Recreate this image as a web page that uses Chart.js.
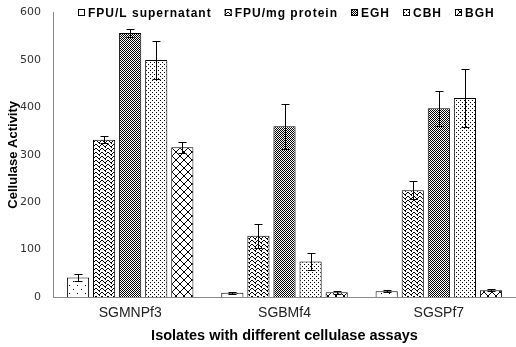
<!DOCTYPE html>
<html>
<head>
<meta charset="utf-8">
<script src="https://cdn.jsdelivr.net/npm/chart.js@4.4.1/dist/chart.umd.min.js"></script>
<style>
  html, body { margin: 0; padding: 0; background: #fff; }
  #wrap { width: 516px; height: 347px; position: relative; }
</style>
</head>
<body>
<div id="wrap"><canvas id="chart"></canvas></div>
<script>
const isolates = ['SGMNPf3', 'SGBMf4', 'SGSPf7'];
const assays = ['FPU/L supernatant', 'FPU/mg protein', 'EGH', 'CBH', 'BGH'];

// values per assay, one per isolate
const fpuL = [41, 9, 12];
const fpuMg = [332, 129, 225];
const egh = [557, 360, 398];
const cbh = [500, 75, 420];
const bgh = [316, 10, 14];

// error (+/-) per assay
const fpuLErr = [8, 2, 2];
const fpuMgErr = [8, 25, 19];
const eghErr = [8, 48, 37];
const cbhErr = [40, 18, 62];
const bghErr = [12, 3, 2];

const yTicks = [0, 100, 200, 300, 400, 500, 600];

// little fill patterns like the old excel ones
function makePattern(w, h, draw) {
    const c = document.createElement('canvas');
    c.width = w; c.height = h;
    const g = c.getContext('2d');
    g.fillStyle = '#fff';
    g.fillRect(0, 0, w, h);
    g.fillStyle = '#000';
    g.strokeStyle = '#000';
    draw(g);
    return document.getElementById('chart').getContext('2d').createPattern(c, 'repeat');
}

const patSparse = makePattern(8, 8, g => {
    g.fillRect(1, 1, 1, 1);
    g.fillRect(5, 5, 1, 1);
});
// herringbone-ish zigzag
const patZigzag = makePattern(6, 4, g => {
    for (let i = 0; i < 3; i++) {
        g.fillRect(i, i, 1, 1);
        g.fillRect(5 - i, i, 1, 1);
    }
    g.fillRect(3, 3, 1, 1);
});
const patDense = makePattern(2, 2, g => {
    g.fillRect(0, 0, 1, 1);
    g.fillRect(1, 1, 1, 1);
});
const patDots = makePattern(4, 4, g => {
    g.fillRect(0, 0, 1, 1);
    g.fillRect(2, 2, 1, 1);
});
const patCross = makePattern(8, 8, g => {
    g.lineWidth = 1;
    g.beginPath();
    g.moveTo(0, 0); g.lineTo(8, 8);
    g.moveTo(8, 0); g.lineTo(0, 8);
    g.stroke();
});

const errors = [fpuLErr, fpuMgErr, eghErr, cbhErr, bghErr];
const fills = [patSparse, patZigzag, patDense, patDots, patCross];
const series = [fpuL, fpuMg, egh, cbh, bgh];

// draw error bars on top of the bars
const errorBars = {
    id: 'errorBars',
    afterDatasetsDraw(chart) {
        const ctx = chart.ctx;
        const y = chart.scales.y;
        ctx.save();
        ctx.strokeStyle = '#000';
        ctx.lineWidth = 1;
        chart.data.datasets.forEach((ds, i) => {
            const meta = chart.getDatasetMeta(i);
            meta.data.forEach((bar, j) => {
                const v = ds.data[j];
                const e = errors[i][j];
                const top = Math.round(y.getPixelForValue(v + e)) + 0.5;
                const bot = Math.round(y.getPixelForValue(v - e)) + 0.5;
                const x = Math.round(bar.x) + 0.5;
                ctx.beginPath();
                ctx.moveTo(x, top); ctx.lineTo(x, bot);
                ctx.moveTo(x - 4, top); ctx.lineTo(x + 4, top);
                ctx.moveTo(x - 4, bot); ctx.lineTo(x + 4, bot);
                ctx.stroke();
            });
        });
        ctx.restore();
    }
};

// legend drawn in one row inside the top of the plot
const topLegend = {
    id: 'topLegend',
    afterDraw(chart) {
        const ctx = chart.ctx;
        const area = chart.chartArea;
        ctx.save();
        ctx.font = 'bold 12px "Liberation Sans", Arial, sans-serif';
        ctx.letterSpacing = '1px';
        const box = 7, gap = 3, spacing = 13;
        const widths = assays.map(a => box + gap + ctx.measureText(a).width);
        const total = widths.reduce((s, w) => s + w, 0) + spacing * (assays.length - 1);
        let x = Math.round((area.left + area.right) / 2 + 2 - total / 2);
        const cy = 13;
        ctx.textBaseline = 'middle';
        assays.forEach((a, i) => {
            ctx.fillStyle = fills[i];
            ctx.fillRect(x, cy - 4, box, box);
            ctx.strokeStyle = '#000';
            ctx.lineWidth = 1;
            ctx.strokeRect(x + 0.5, cy - 3.5, box - 1, box - 1);
            ctx.fillStyle = '#000';
            ctx.fillText(a, x + box + gap, cy + 1);
            x += widths[i] + spacing;
        });
        ctx.restore();
    }
};

new Chart(document.getElementById('chart'), {
    type: 'bar',
    data: {
        labels: isolates,
        datasets: assays.map((name, i) => ({
            label: name,
            data: series[i],
            backgroundColor: fills[i],
            borderColor: '#000',
            borderWidth: 1
        }))
    },
    options: {
        responsive: true,
        maintainAspectRatio: false,
        animation: false,
        categoryPercentage: 0.845,
        barPercentage: 0.85,
        layout: { padding: { top: 9, right: 0, bottom: 0, left: 0 } },
        plugins: {
            tooltip: { enabled: false },
            legend: { display: false }
        },
        scales: {
            x: {
                grid: { display: false, drawTicks: false },
                border: { color: '#888' },
                ticks: {
                    color: '#222',
                    padding: 8,
                    font: { family: 'Liberation Sans, Arial, sans-serif', size: 14 }
                },
                title: {
                    display: true,
                    text: 'Isolates with different cellulase assays',
                    color: '#000',
                    padding: { top: 0, bottom: 2 },
                    font: { family: 'Liberation Sans, Arial, sans-serif', size: 14.5, weight: 'bold' }
                },
                afterFit(scale) { scale.height = 50; }
            },
            y: {
                min: 0,
                max: 600,
                afterBuildTicks(scale) { scale.ticks = yTicks.map(v => ({ value: v })); },
                grid: { display: false, drawTicks: true, tickLength: 6, tickColor: '#888' },
                border: { color: '#888' },
                ticks: {
                    color: '#333',
                    padding: 6,
                    font: { family: 'DejaVu Sans, Verdana, sans-serif', size: 11 }
                },
                title: {
                    display: true,
                    text: 'Cellulase Activity',
                    color: '#000',
                    padding: { top: 6 },
                    font: { family: 'Liberation Sans, Arial, sans-serif', size: 13, weight: 'bold' }
                },
                afterFit(scale) { scale.width = 53; }
            }
        }
    },
    plugins: [errorBars, topLegend]
});
</script>
</body>
</html>
